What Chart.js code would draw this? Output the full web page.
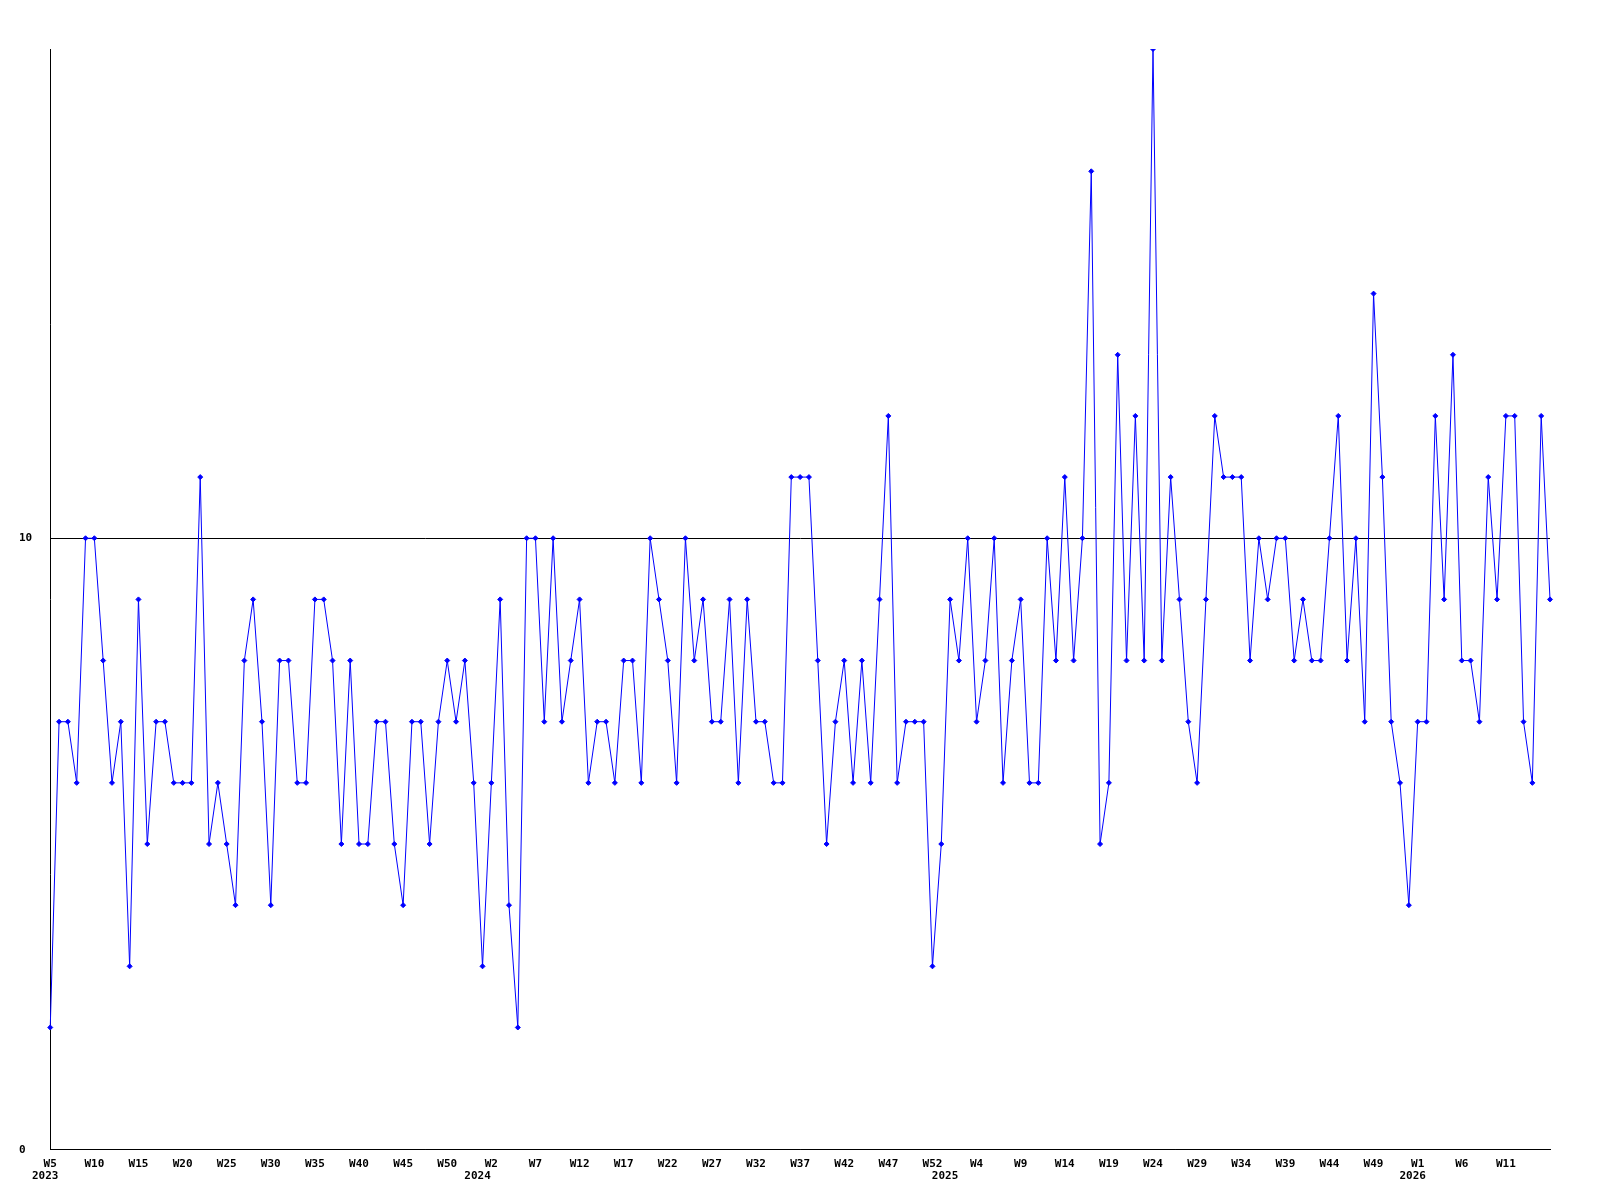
<!DOCTYPE html>
<html>
<head>
<meta charset="utf-8">
<title>Weekly count</title>
<script src="https://cdn.jsdelivr.net/npm/chart.js@4.4.1/dist/chart.umd.min.js"></script>
<style>
  body { margin: 0; background: #fff; }
</style>
</head>
<body>
<canvas id="weeklyChart" width="1600" height="1200"></canvas>
<script>
// weeks run 2023 W5 .. 2026 W16, 53 week slots per year
const years = [2023, 2024, 2025, 2026];
const firstWeek = 5;
const lastWeek = 16;
const weeksPerYear = 53;

const values = [
  2, 7, 7, 6, 10, 10, 8, 6, 7, 3, 9, 5, 7, 7, 6, 6, 6, 11, 5, 6, 5, 4, 8, 9, 7, 4, 8, 8, 6,
  6, 9, 9, 8, 5, 8, 5, 5, 7, 7, 5, 4, 7, 7, 5, 7, 8, 7, 8, 6, 3, 6, 9, 4, 2, 10, 10, 7,
  10, 7, 8, 9, 6, 7, 7, 6, 8, 8, 6, 10, 9, 8, 6, 10, 8, 9, 7, 7, 9, 6, 9, 7, 7, 6, 6, 11, 11,
  11, 8, 5, 7, 8, 6, 8, 6, 9, 12, 6, 7, 7, 7, 3, 5, 9, 8, 10, 7, 8, 10, 6, 8, 9, 6, 6, 10,
  8, 11, 8, 10, 16, 5, 6, 13, 8, 12, 8, 18, 8, 11, 9, 7, 6, 9, 12, 11, 11, 11, 8, 10, 9, 10, 10,
  8, 9, 8, 8, 10, 12, 8, 10, 7, 14, 11, 7, 6, 4, 7, 7, 12, 9, 13, 8, 8, 7, 11, 9, 12, 12, 7, 6, 12, 9
];

const yTicks = [0, 10];
const weekLabelStep = 5;

const weekLabels = [];
const yearOfWeek = [];
years.forEach((yr, n) => {
  const from = n === 0 ? firstWeek : 1;
  const to = n === years.length - 1 ? lastWeek : weeksPerYear;
  for (let w = from; w <= to; w++) {
    weekLabels.push('W' + w);
    yearOfWeek.push(String(yr));
  }
});

const tickFont = { family: '"DejaVu Sans Mono", monospace', size: 11, weight: 'bold' };

const ctx = document.getElementById('weeklyChart');
new Chart(ctx, {
  type: 'line',
  data: {
    labels: weekLabels,
    datasets: [{
      data: values,
      borderColor: '#0000ff',
      backgroundColor: '#0000ff',
      borderWidth: 1,
      pointStyle: 'rectRot',
      pointRadius: 2.5,
      pointBorderWidth: 1,
      tension: 0,
      fill: false
    }]
  },
  options: {
    responsive: false,
    animation: false,
    layout: { padding: { left: 19, right: 50, top: 49, bottom: 17 } },
    plugins: {
      legend: { display: false },
      tooltip: { enabled: false }
    },
    scales: {
      x: {
        type: 'category',
        position: 'bottom',
        weight: 0,
        grid: { display: false, drawTicks: false },
        border: { display: true, color: '#000', width: 1 },
        ticks: {
          autoSkip: false,
          maxRotation: 0,
          minRotation: 0,
          padding: 8,
          color: '#000',
          font: tickFont,
          // last slot has no label in the original
          callback: (v, i) => (i % weekLabelStep === 0 && i < weekLabels.length - 1 ? weekLabels[i] : null)
        },
        afterFit: axis => { axis.height = 20; }
      },
      years: {
        type: 'category',
        position: 'bottom',
        weight: 1,
        grid: { display: false, drawTicks: false },
        border: { display: false },
        ticks: {
          autoSkip: false,
          maxRotation: 0,
          minRotation: 0,
          padding: 0,
          labelOffset: -5,
          color: '#000',
          font: tickFont,
          callback: (v, i) => (i === 0 || weekLabels[i] === 'W1' ? yearOfWeek[i] : null)
        }
      },
      y: {
        min: 0,
        max: 18,
        afterBuildTicks: axis => {
          axis.ticks = yTicks.map(v => ({ value: v }));
        },
        grid: { color: '#000', lineWidth: 1, drawTicks: false },
        border: { color: '#000', width: 1 },
        ticks: {
          crossAlign: 'far',
          padding: 9,
          color: '#000',
          font: tickFont
        }
      }
    }
  }
});
</script>
</body>
</html>
